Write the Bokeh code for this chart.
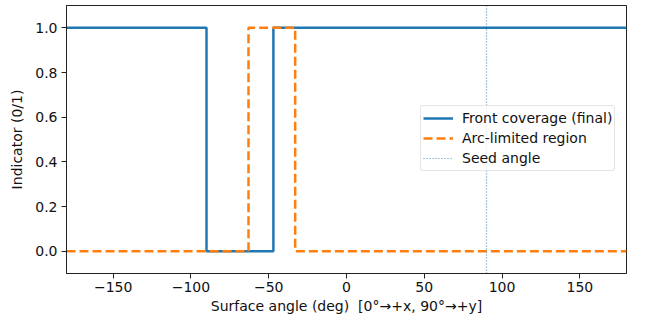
from bokeh.plotting import figure
from bokeh.models import Range1d, FixedTicker, Legend, LegendItem
from bokeh.embed import file_html
from bokeh.resources import INLINE

# Step breakpoints (deg) and indicator values, held from each breakpoint to the next
front_angles = [-180, -90, -47, 180]
front_values = [1, 0, 1, 1]
arc_angles = [-180, -63, -33, 180]
arc_values = [0, 1, 0, 0]
seed_angle = 90

x_ticks = [-150, -100, -50, 0, 50, 100, 150]
y_ticks = [0.0, 0.2, 0.4, 0.6, 0.8, 1.0]

BLUE = "#1f77b4"
ORANGE = "#ff7f0e"
FONT = "DejaVu Sans"
FS = "14px"

p = figure(width=647, height=320, output_backend="svg", toolbar_location=None,
           x_range=Range1d(-180, 180), y_range=Range1d(-0.1, 1.1),
           min_border_left=66, min_border_right=21, min_border_top=5, min_border_bottom=47)

p.grid.visible = False
p.outline_line_color = "#222222"
p.outline_line_width = 1
p.background_fill_color = "white"
p.border_fill_color = "white"

for ax in (p.xaxis[0], p.yaxis[0]):
    ax.axis_line_color = "#222222"
    ax.major_tick_line_color = "#222222"
    ax.major_tick_out = 5
    ax.major_tick_in = 0
    ax.minor_tick_out = 0
    ax.minor_tick_in = 0
    ax.major_label_text_font = FONT
    ax.major_label_text_font_size = FS
    ax.major_label_text_color = "#111111"
    ax.axis_label_text_font = FONT
    ax.axis_label_text_font_size = FS
    ax.axis_label_text_font_style = "normal"
    ax.axis_label_text_color = "#111111"

p.xaxis.ticker = FixedTicker(ticks=x_ticks)
p.xaxis.major_label_overrides = {t: str(t).replace("-", "\u2212") for t in x_ticks}
p.yaxis.ticker = FixedTicker(ticks=y_ticks)
p.yaxis.major_label_overrides = {t: f"{t:.1f}" for t in y_ticks}
p.xaxis.axis_label = "Surface angle (deg) \u00a0[0°→+x, 90°→+y]"
p.yaxis.axis_label = "Indicator (0/1)"
p.xaxis.major_label_standoff = 3
p.yaxis.major_label_standoff = 4
p.xaxis.axis_label_standoff = 3
p.yaxis.axis_label_standoff = 7

r_front = p.step(front_angles, front_values, mode="after", line_color=BLUE, line_width=2.5)
r_arc = p.step(arc_angles, arc_values, mode="after", line_color=ORANGE, line_width=2.5,
               line_dash="9 4")
r_seed = p.line([seed_angle, seed_angle], [-0.1, 1.1], line_color=BLUE, line_width=1.2,
                line_dash="1 2", line_alpha=0.8)

legend = Legend(items=[
    LegendItem(label="Front coverage (final)", renderers=[r_front]),
    LegendItem(label="Arc-limited region", renderers=[r_arc]),
    LegendItem(label="Seed angle", renderers=[r_seed]),
], location=(354, 102))
legend.label_text_font = FONT
legend.label_text_font_size = FS
legend.label_text_color = "#111111"
legend.glyph_width = 30
legend.glyph_height = 20
legend.label_height = 20
legend.label_standoff = 9
legend.spacing = 0
legend.padding = 2
legend.margin = 0
legend.border_line_color = "#cccccc"
legend.border_line_width = 1
legend.border_radius = 3
legend.background_fill_color = "white"
legend.background_fill_alpha = 0.8
p.add_layout(legend, "center")

open("out.html", "w").write(file_html(p, INLINE))
